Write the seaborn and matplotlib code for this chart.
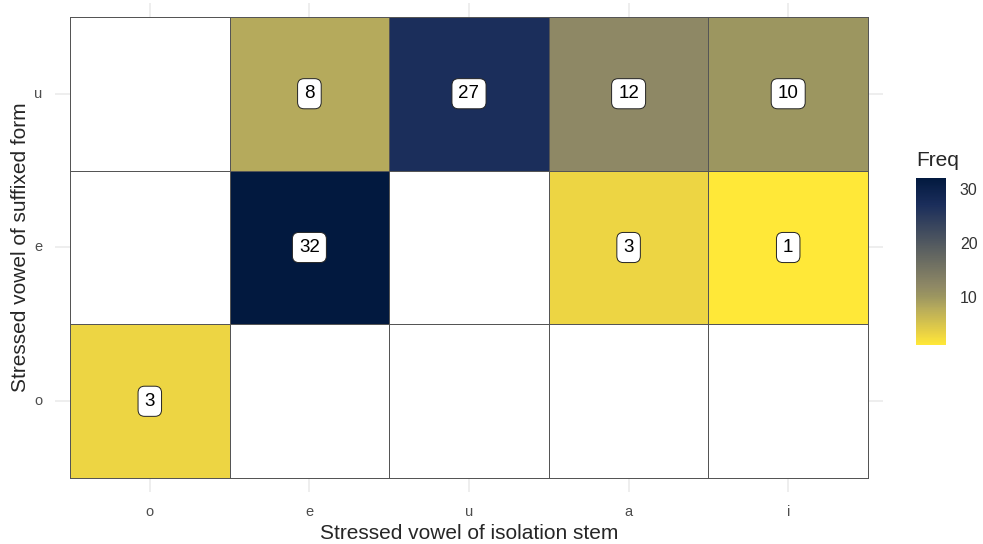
import numpy as np
import pandas as pd
import seaborn as sns
import matplotlib.pyplot as plt
from matplotlib.colors import LinearSegmentedColormap

# stressed vowel of isolation stem (columns) vs suffixed form (rows)
stem_vowels = ['o', 'e', 'u', 'a', 'i']
suffixed_vowels = ['u', 'e', 'o']  # top to bottom
freq_u = [np.nan, 8, 27, 12, 10]
freq_e = [np.nan, 32, np.nan, 3, 1]
freq_o = [3, np.nan, np.nan, np.nan, np.nan]

# colour stops picked off the reference legend (value -> colour)
stop_values = [1, 3, 8, 10, 12, 27, 32]
stop_colors = ['#FFE838', '#ECD443', '#B4A95C', '#9C9660', '#8E8865', '#1B2E5B', '#02193F']

df = pd.DataFrame([freq_u, freq_e, freq_o], index=suffixed_vowels, columns=stem_vowels)
vmin, vmax = 1, 32
cmap = LinearSegmentedColormap.from_list(
    'freq', [((v - vmin) / (vmax - vmin), c) for v, c in zip(stop_values, stop_colors)])

sns.set_style('white')
plt.rcParams['font.family'] = ['Liberation Sans', 'DejaVu Sans']

fig = plt.figure(figsize=(9.83, 5.44), dpi=100)
W, H = 983, 544
ax = fig.add_axes([55 / W, 1 - 492 / H, (883 - 55) / W, (492 - 3) / H])
cax = fig.add_axes([916 / W, 1 - 345 / H, 30 / W, (345 - 178) / H])

# white tiles underneath so empty cells still get their borders
sns.heatmap(np.zeros(df.shape), cmap=sns.color_palette(['white']), cbar=False,
            linewidths=0.6, linecolor='#555555', ax=ax)
sns.heatmap(df, cmap=cmap, vmin=vmin, vmax=vmax, mask=df.isna(),
            linewidths=0.6, linecolor='#555555', ax=ax, cbar_ax=cax,
            annot=True, fmt='.0f',
            annot_kws={'color': 'black', 'fontsize': 13.5,
                       'bbox': dict(boxstyle='round,pad=0.35', fc='white',
                                    ec='#222222', lw=0.7)})

ax.set_xlim(-0.094, 5.094)
ax.set_ylim(3.09, -0.09)
ax.set_axisbelow(True)
for x in np.arange(5) + 0.5:
    ax.axvline(x, color='#EBEBEB', lw=1.2, zorder=0)
for y in np.arange(3) + 0.5:
    ax.axhline(y, color='#EBEBEB', lw=1.2, zorder=0)
for s in ax.spines.values():
    s.set_visible(False)

ax.set_xticklabels(stem_vowels, rotation=0)
ax.set_yticklabels(suffixed_vowels, rotation=0)
ax.tick_params(axis='both', length=0, labelsize=10.5, labelcolor='#4D4D4D', pad=9)
ax.set_xlabel('Stressed vowel of isolation stem', fontsize=15, labelpad=4)
ax.set_ylabel('Stressed vowel of suffixed form', fontsize=15, labelpad=3)

# colorbar styled like a ggplot legend
cbar = ax.collections[-1].colorbar
cbar.outline.set_visible(False)
cbar.set_ticks([10, 20, 30])
cax.yaxis.set_ticks_position('both')
cax.tick_params(direction='in', length=6, color='white', width=0.8, pad=10,
                labelsize=11.5, labelcolor='#333333', labelleft=False, labelright=True)
cax.set_title('Freq', loc='left', fontsize=15, pad=9)

fig.savefig('out.png', dpi=100)
